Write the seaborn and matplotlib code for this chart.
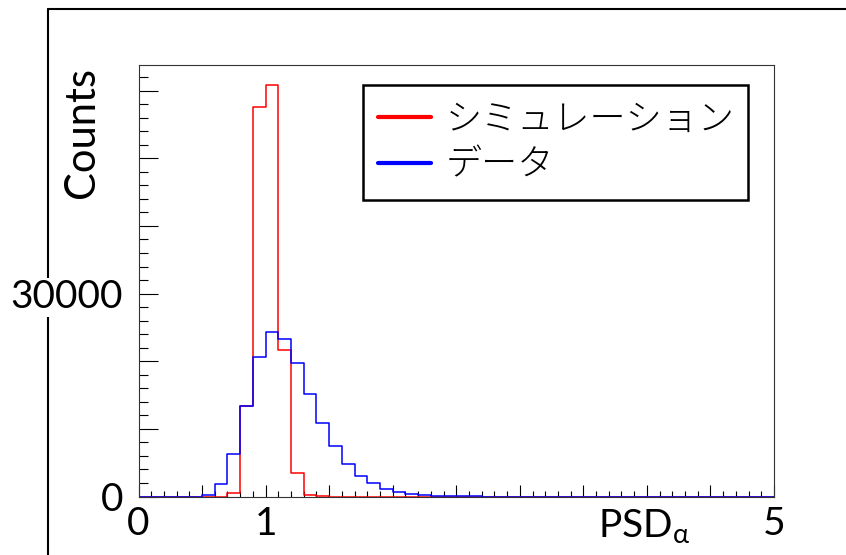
import numpy as np
import pandas as pd
import matplotlib
matplotlib.use("Agg")
import matplotlib.pyplot as plt
import seaborn as sns
from matplotlib.lines import Line2D
from matplotlib.ticker import MultipleLocator, FuncFormatter

# ---------------- data ----------------
bin_edges = [round(0.1 * i, 2) for i in range(51)]          # 50 bins, width 0.1
sim_counts = [0, 0, 0, 0, 0, 0, 0, 500, 13400, 57600,
              60800, 21600, 3500, 250, 40, 0, 0, 0, 0, 0,
              0, 0, 0, 0, 0, 0, 0, 0, 0, 0,
              0, 0, 0, 0, 0, 0, 0, 0, 0, 0,
              0, 0, 0, 0, 0, 0, 0, 0, 0, 0]
data_counts = [0, 0, 0, 0, 0, 220, 1850, 6300, 13400, 20600,
               24300, 23350, 19800, 15200, 10900, 7400, 4850, 3100, 1950, 1100,
               670, 370, 180, 80, 40, 20, 10, 0, 0, 0,
               0, 0, 0, 0, 0, 0, 0, 0, 0, 0,
               0, 0, 0, 0, 0, 0, 0, 0, 0, 0]
series_labels = ["シミュレーション", "データ"]
x_tick_values = [0, 1, 5]
x_tick_labels = ["0", "1", "5"]
y_tick_values = [0, 30000]
y_tick_labels = ["0", "30000"]
x_title = r"PSD$_{\mathregular{α}}$"
y_title = "Counts"

edges_arr = np.array(bin_edges)
centers = (edges_arr[:-1] + edges_arr[1:]) / 2
df = pd.DataFrame({
    "psd": np.concatenate([centers, centers]),
    "count": sim_counts + data_counts,
    "series": [series_labels[0]] * len(centers) + [series_labels[1]] * len(centers),
})

# ---------------- style ----------------
sns.set_style("white")
plt.rcParams["font.family"] = ["Lato", "Noto Sans CJK JP", "DejaVu Sans"]
plt.rcParams["mathtext.fontset"] = "custom"
plt.rcParams["mathtext.rm"] = "Lato"
plt.rcParams["text.color"] = "black"
plt.rcParams["axes.labelcolor"] = "black"
plt.rcParams["xtick.labelcolor"] = "black"
plt.rcParams["ytick.labelcolor"] = "black"

W, H = 846, 555
fig = plt.figure(figsize=(W / 100, H / 100), dpi=100)
fig.patch.set_facecolor("white")

L, R, T, B = 138.5, 774, 65, 496.5
ax = fig.add_axes([L / W, 1 - B / H, (R - L) / W, (B - T) / H])

colors = {series_labels[0]: "#ff0000", series_labels[1]: "#0000ff"}
for name in series_labels:
    sub = df[df["series"] == name]
    sns.histplot(x=sub["psd"].to_numpy(), weights=sub["count"].to_numpy(),
                 bins=bin_edges, element="step", fill=False,
                 color=colors[name], linewidth=1.1, ax=ax)

ax.set_xlim(0, 5)
ax.set_ylim(0, 63800)

# ticks
ax.xaxis.set_major_locator(MultipleLocator(0.5))
ax.xaxis.set_minor_locator(MultipleLocator(0.1))
ax.yaxis.set_major_locator(MultipleLocator(10000))
ax.yaxis.set_minor_locator(MultipleLocator(2000))

xl = dict(zip(x_tick_values, x_tick_labels))
yl = dict(zip(y_tick_values, y_tick_labels))
ax.xaxis.set_major_formatter(FuncFormatter(
    lambda v, p: next((s for k, s in xl.items() if abs(v - k) < 1e-6), "")))
ax.yaxis.set_major_formatter(FuncFormatter(
    lambda v, p: next((s for k, s in yl.items() if abs(v - k) < 1e-6), "")))

ax.tick_params(axis="x", which="major", direction="in", length=8.6, width=0.8,
               color="black", labelsize=28, pad=7, bottom=True, top=False)
ax.tick_params(axis="x", which="minor", direction="in", length=4.3, width=0.8,
               color="black", bottom=True, top=False)
ax.tick_params(axis="y", which="major", direction="in", length=13.7, width=0.8,
               color="black", labelsize=28, pad=11, left=True, right=False)
ax.tick_params(axis="y", which="minor", direction="in", length=6.5, width=0.8,
               color="black", left=True, right=False)
for lab in ax.get_yticklabels():
    lab.set_bbox(dict(facecolor="white", edgecolor="none", pad=1))

for s in ax.spines.values():
    s.set_visible(True)
    s.set_color("#333333")
    s.set_linewidth(0.8)

# axis titles
ax.set_ylabel(y_title, fontsize=30, loc="top")
ax.yaxis.label.set_verticalalignment("center")
ax.yaxis.set_label_coords((82.5 - L) / (R - L), (B - 67) / (B - T))
ax.set_xlabel(x_title, fontsize=28, loc="right")
ax.xaxis.label.set_verticalalignment("top")
ax.xaxis.set_label_coords((690 - L) / (R - L), (B - 508) / (B - T))

# legend
handles = [Line2D([], [], color=colors[n], linewidth=3) for n in series_labels]
leg = ax.legend(handles, series_labels, loc="upper left",
                bbox_to_anchor=((363 - L) / (R - L), (B - 85) / (B - T),
                                (748 - 363) / (R - L), 0.0),
                mode="expand", fancybox=False, framealpha=1, edgecolor="black",
                prop={"family": ["Noto Sans CJK JP"], "size": 26,
                      "weight": "light"},
                handlelength=1.46, handletextpad=0.42, borderpad=0.42,
                labelspacing=0.2, borderaxespad=0)
leg.get_frame().set_linewidth(1.8)

# outer slide frame
fig.add_artist(Line2D([48 / W, 1], [1 - 9 / H, 1 - 9 / H], color="black",
                      linewidth=1.5, transform=fig.transFigure, zorder=-1))
fig.add_artist(Line2D([48 / W, 48 / W], [1 - 9 / H, 0], color="black",
                      linewidth=1.5, transform=fig.transFigure, zorder=-1))

fig.savefig("out.png", dpi=100, facecolor="white")
